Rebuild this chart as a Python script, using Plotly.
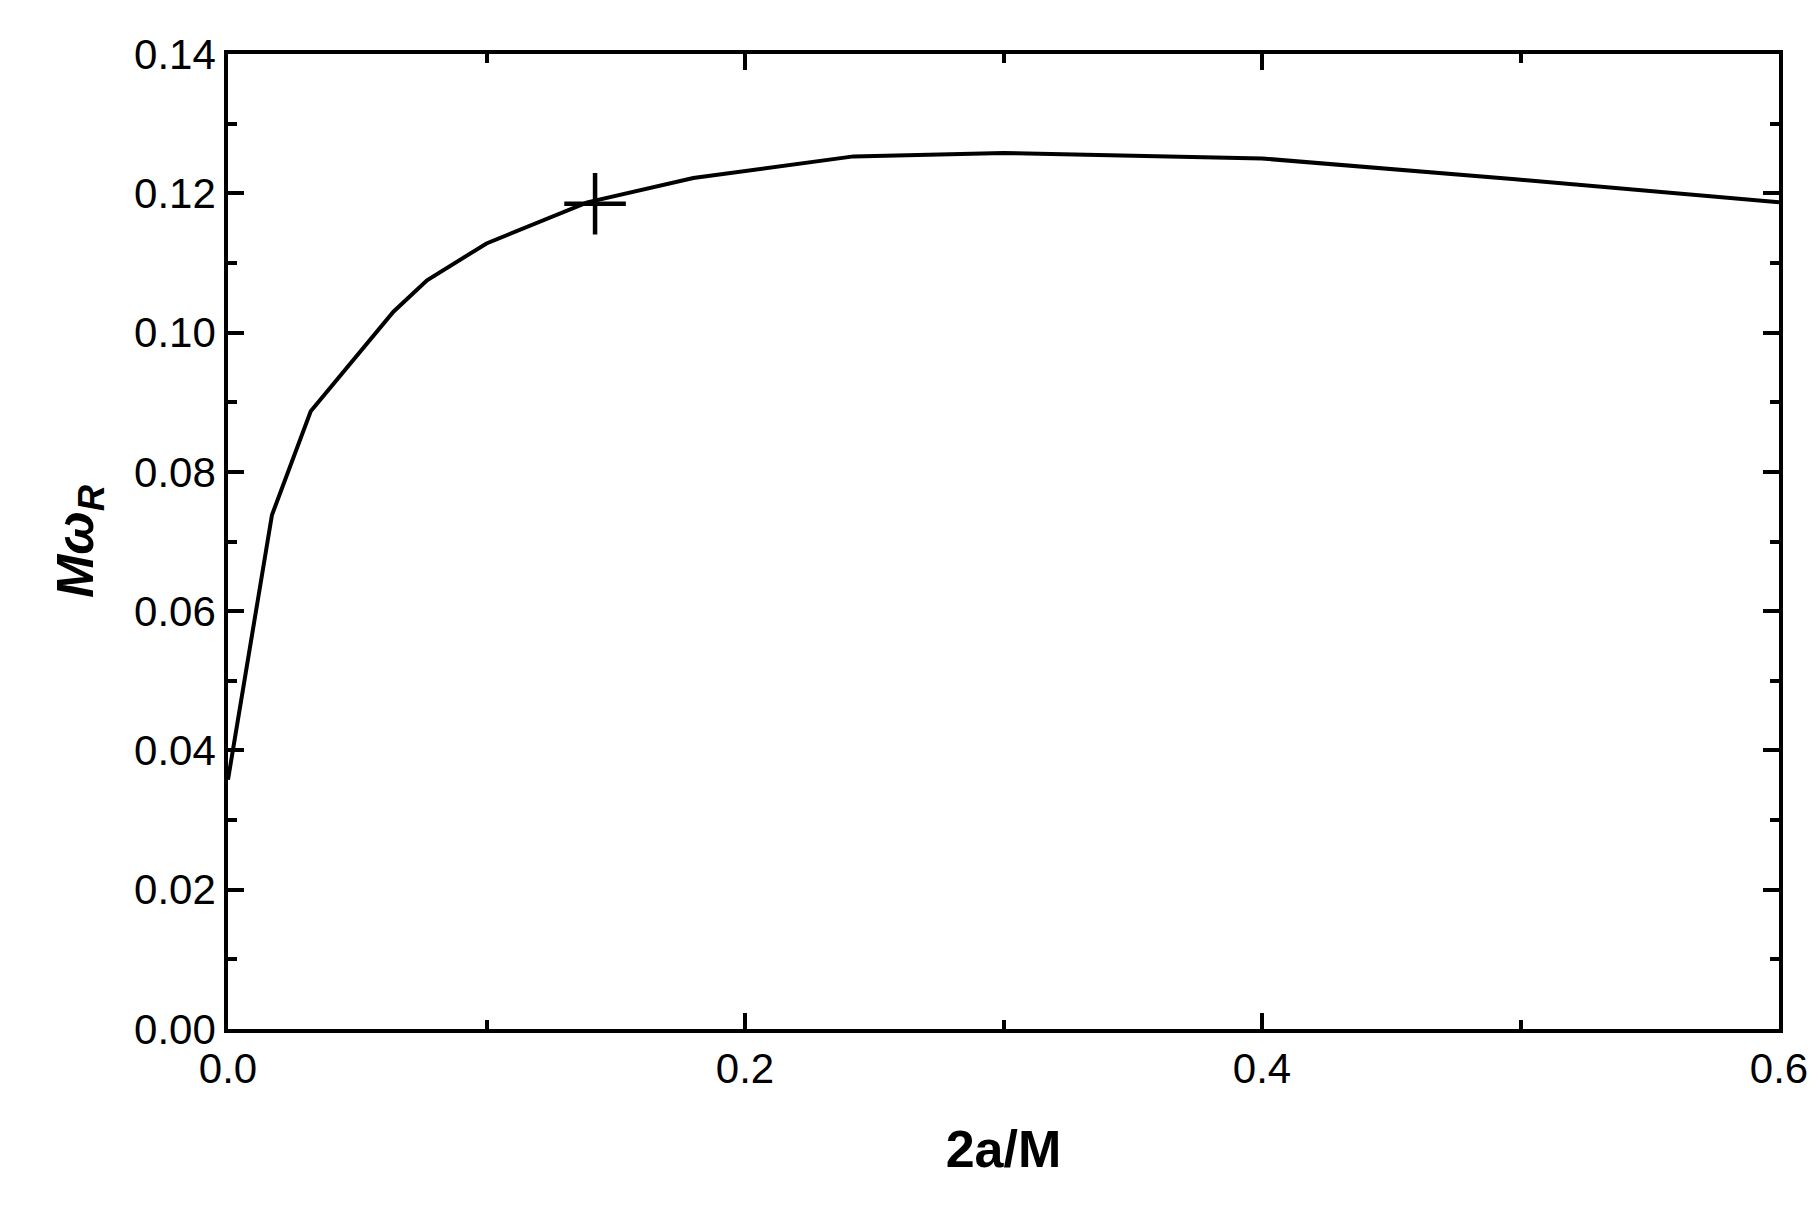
import plotly.graph_objects as go

# curve
x_vals = [0.0, 0.017, 0.032, 0.064, 0.077, 0.1, 0.139, 0.18, 0.242, 0.3, 0.4, 0.498, 0.6]
y_vals = [0.0358, 0.0738, 0.0887, 0.103, 0.1075, 0.1128, 0.1187, 0.1222, 0.1253, 0.1258, 0.1250, 0.1220, 0.1187]

# single marked point
mark_x = [0.142]
mark_y = [0.1185]

fig = go.Figure()
fig.add_trace(go.Scatter(x=x_vals, y=y_vals, mode="lines",
                         line=dict(color="black", width=4), showlegend=False))
fig.add_trace(go.Scatter(x=mark_x, y=mark_y, mode="markers",
                         marker=dict(symbol="cross-thin", size=44,
                                     line=dict(color="black", width=4.5)),
                         showlegend=False))

axis_common = dict(showline=True, linecolor="black", linewidth=3.5, mirror="allticks",
                   ticks="inside", ticklen=16, tickwidth=3.5, tickcolor="black",
                   showgrid=False, zeroline=False,
                   tickfont=dict(family="Liberation Sans", size=42, color="black"))

fig.update_xaxes(range=[0, 0.6], dtick=0.2, tickformat=".1f",
                 minor=dict(dtick=0.1, ticks="inside", ticklen=9, tickwidth=3.5, tickcolor="black"),
                 title=dict(text="<b>2a/M</b>", font=dict(family="Liberation Sans", size=52, color="black"),
                            standoff=40),
                 **axis_common)
fig.update_yaxes(range=[0, 0.14], dtick=0.02, tickformat=".2f",
                 minor=dict(dtick=0.01, ticks="inside", ticklen=9, tickwidth=3.5, tickcolor="black"),
                 title=dict(text="<b><i>Mω<sub>R</sub></i></b>",
                            font=dict(family="Liberation Sans", size=52, color="black"), standoff=25),
                 **axis_common)

fig.update_layout(width=1819, height=1208, plot_bgcolor="white", paper_bgcolor="white",
                  margin=dict(l=220, r=48, t=46, b=187))

fig.write_html("out.html")
